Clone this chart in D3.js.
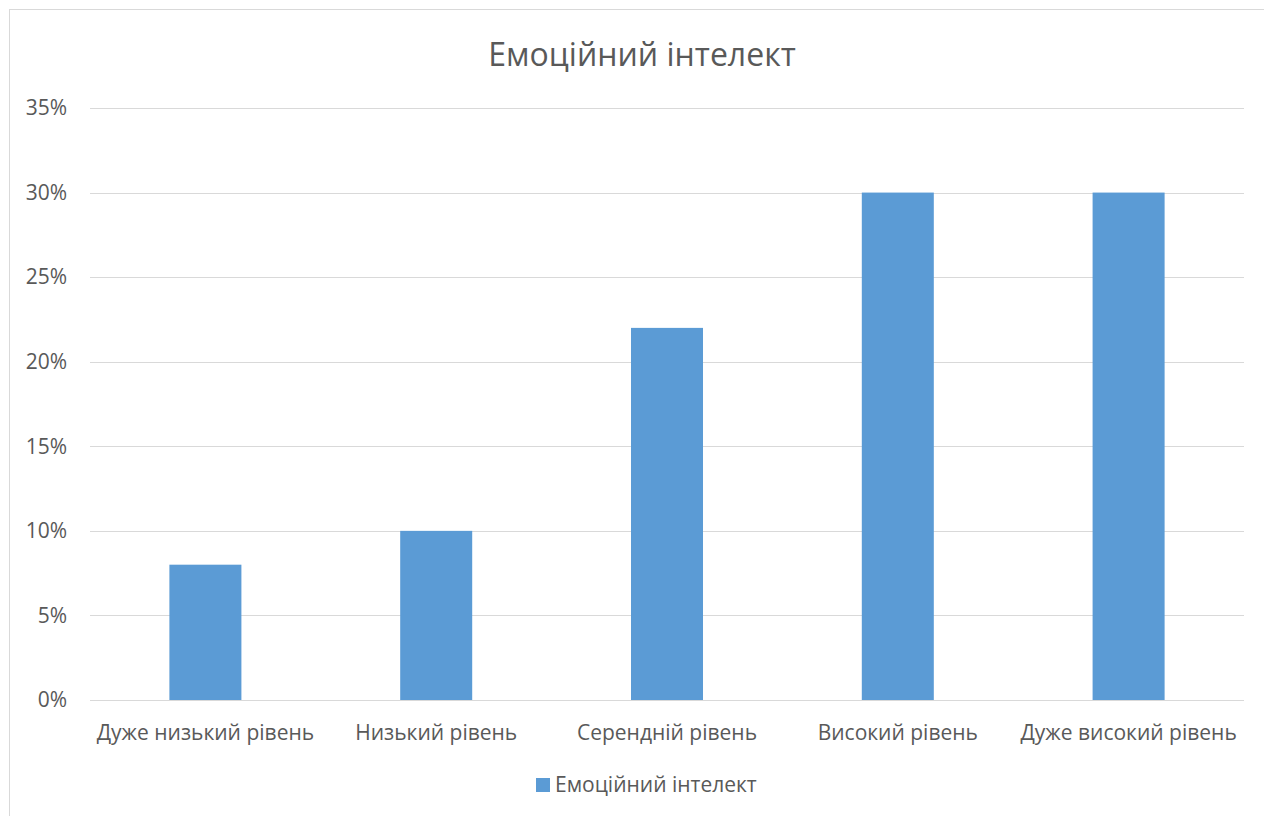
<!DOCTYPE html>
<html>
<head>
<meta charset="utf-8">
<script src="https://cdn.jsdelivr.net/npm/d3@7"></script>
<style>
  html, body { margin: 0; padding: 0; background: #fff; }
  svg { display: block; font-family: "Open Sans", "Noto Sans", sans-serif; }
</style>
</head>
<body>
<svg id="chart" width="1264" height="816"></svg>
<script>
// Chart data
const title = "Емоційний інтелект";
const seriesName = "Емоційний інтелект";
const categories = ["Дуже низький рівень", "Низький рівень", "Серендній рівень", "Високий рівень", "Дуже високий рівень"];
const values = [0.08, 0.10, 0.22, 0.30, 0.30];
const yTicks = [0, 0.05, 0.10, 0.15, 0.20, 0.25, 0.30, 0.35];

const barColor = "#5b9bd5";
const textColor = "#595959";
const gridColor = "#d9d9d9";
const labelSize = "21px";

const svg = d3.select("#chart");

// Outer chart frame
svg.append("rect")
  .attr("x", 9.5).attr("y", 9.5)
  .attr("width", 1264).attr("height", 816)
  .attr("fill", "#fff")
  .attr("stroke", "#d9d9d9").attr("stroke-width", 1);

const plot = { left: 90, right: 1244, top: 108, bottom: 700 };

const x = d3.scaleBand()
  .domain(categories)
  .range([plot.left, plot.right])
  .paddingInner(0.688)
  .paddingOuter(0.344);

const y = d3.scaleLinear()
  .domain([0, 0.35])
  .range([plot.bottom, plot.top]);

// Gridlines
svg.append("g")
  .selectAll("line")
  .data(yTicks)
  .join("line")
  .attr("x1", plot.left).attr("x2", plot.right)
  .attr("y1", d => Math.round(y(d)) + 0.5)
  .attr("y2", d => Math.round(y(d)) + 0.5)
  .attr("stroke", gridColor).attr("stroke-width", 1);

// Y axis labels
const yAxis = d3.axisLeft(y)
  .tickValues(yTicks)
  .tickFormat(d3.format(".0%"))
  .tickSize(0)
  .tickPadding(0);

const yg = svg.append("g")
  .attr("transform", `translate(67,0)`)
  .call(yAxis);
yg.select(".domain").remove();
yg.selectAll("text")
  .attr("fill", textColor)
  .style("font-size", labelSize)
  .style("font-family", "\"Open Sans\", sans-serif");

// Bars
svg.append("g")
  .selectAll("rect")
  .data(values)
  .join("rect")
  .attr("x", (d, i) => x(categories[i]))
  .attr("width", x.bandwidth())
  .attr("y", d => y(d))
  .attr("height", d => y(0) - y(d))
  .attr("fill", barColor);

// X axis labels
const xAxis = d3.axisBottom(x).tickSize(0).tickPadding(0);
const xg = svg.append("g")
  .attr("transform", `translate(0,${plot.bottom})`)
  .call(xAxis);
xg.select(".domain").remove();
xg.selectAll("text")
  .attr("fill", textColor)
  .attr("dy", "0")
  .attr("y", 40)
  .style("font-size", labelSize)
  .style("font-family", "\"Open Sans\", sans-serif");

// Title
svg.append("text")
  .attr("x", 642).attr("y", 66)
  .attr("text-anchor", "middle")
  .attr("fill", textColor)
  .style("font-size", "32px")
  .text(title);

// Legend
const legend = svg.append("g").attr("transform", "translate(536,778)");
legend.append("rect")
  .attr("width", 14).attr("height", 14)
  .attr("fill", barColor);
legend.append("text")
  .attr("x", 19).attr("y", 14)
  .attr("fill", textColor)
  .style("font-size", labelSize)
  .text(seriesName);
</script>
</body>
</html>
